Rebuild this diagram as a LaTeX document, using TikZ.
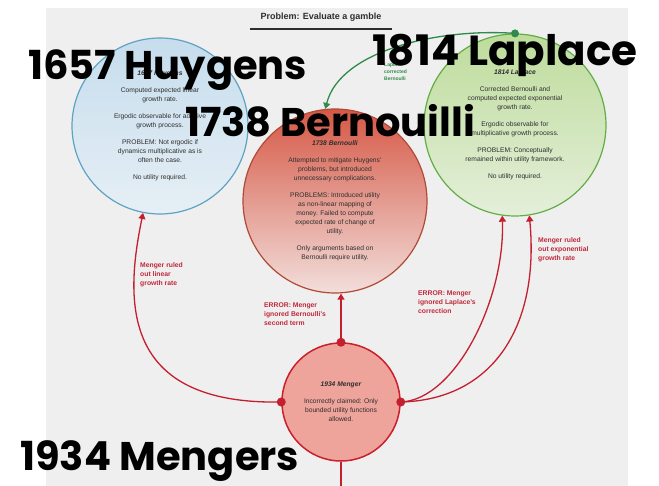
\documentclass[tikz,border=0pt]{standalone}
\usepackage{fontspec}
\setmainfont{Liberation Sans}
\newfontfamily\bigfont{Poppins}
\usetikzlibrary{arrows.meta}
\definecolor{bgray}{HTML}{EFEFEF}
\definecolor{redln}{HTML}{C41F2E}
\definecolor{redtx}{HTML}{C0283A}
\definecolor{greenln}{HTML}{2E8B4A}
\definecolor{bluebd}{HTML}{5EA3C4}
\definecolor{bluetop}{HTML}{C6DDED}
\definecolor{bluebot}{HTML}{E6EFF5}
\definecolor{redbd}{HTML}{B04A35}
\definecolor{redtop}{HTML}{D65846}
\definecolor{redbot}{HTML}{F2DEDB}
\definecolor{greenbd}{HTML}{63AD45}
\definecolor{greentop}{HTML}{BEDC9C}
\definecolor{greenbot}{HTML}{E4EFDA}
\definecolor{mengerfill}{HTML}{EEA39B}
\definecolor{mengerbd}{HTML}{C9202C}
\definecolor{bodytx}{HTML}{2E2E2E}
\tikzset{
  circ/.style={circle, inner sep=0pt, align=center, text=bodytx,
    font=\fontsize{6.7}{9}\selectfont},
  lbl/.style={inner sep=0pt, align=left, text=redtx, anchor=north west,
    font=\bfseries\fontsize{6.8}{9}\selectfont},
  redline/.style={draw=redln, line width=1.3pt},
  redarrow/.style={redline, -{Triangle[width=7pt,length=6pt]}},
  bigl/.style={inner sep=0pt, anchor=base west, text=black,
    font=\bigfont\bfseries\fontsize{40}{44}\selectfont},
}
\begin{document}
\begin{tikzpicture}[x=1pt,y=-1pt]
\useasboundingbox (0,0) rectangle (659,486);
\fill[bgray] (46,8) rectangle (628,486);

% title
\node[font=\bfseries\fontsize{9}{11}\selectfont, text=bodytx] (title) at (321,17) {Problem: Evaluate a gamble};
\draw[line width=1.8pt, draw=bodytx] ([xshift=-7pt,yshift=-4pt]title.south west) -- ([xshift=7pt,yshift=-4pt]title.south east);

% circles
\node[circ, minimum size=176pt, draw=bluebd, line width=1.2pt, top color=bluetop, bottom color=bluebot] (huy) at (160,126)
 {\textbf{\textit{1657 Huygens}}\\[8pt]
  Computed expected linear\\growth rate.\\[8pt]
  Ergodic observable for additive\\growth process.\\[8pt]
  PROBLEM: Not ergodic if\\dynamics multiplicative as is\\often the case.\\[8pt]
  No utility required.};

\node[circ, minimum size=182pt, draw=greenbd, line width=1.2pt, top color=greentop, bottom color=greenbot] (lap) at (515,125)
 {\textbf{\textit{1814 Laplace}}\\[8pt]
  Corrected Bernoulli and\\computed expected exponential\\growth rate.\\[8pt]
  Ergodic observable for\\multiplicative growth process.\\[8pt]
  PROBLEM: Conceptually\\remained within utility framework.\\[8pt]
  No utility required.};

\node[circ, minimum size=184pt, draw=redbd, line width=1.2pt, top color=redtop, bottom color=redbot] (ber) at (335,201)
 {\textbf{\textit{1738 Bernoulli}}\\[8pt]
  Attempted to mitigate Huygens'\\problems, but introduced\\unnecessary complications.\\[8pt]
  PROBLEMS: Introduced utility\\as non-linear mapping of\\money. Failed to compute\\expected rate of change of\\utility.\\[8pt]
  Only arguments based on\\Bernoulli require utility.};

\node[circ, minimum size=118pt, draw=mengerbd, line width=1.5pt, fill=mengerfill] (men) at (341,402)
 {\textbf{\textit{1934 Menger}}\\[8pt]
  Incorrectly claimed: Only\\bounded utility functions\\allowed.};

% green connector
\draw[draw=greenln, line width=1.3pt, -{Triangle[width=7pt,length=6pt]}]
  (lap.north) .. controls (440,28) and (340,50) .. (ber.96);
\fill[greenln] (lap.north) circle (4pt);
\node[inner sep=0pt, anchor=north west, align=left, text=greenln, font=\bfseries\fontsize{5}{6.6}\selectfont] (lglab) at (384,63) {Laplace\\corrected\\Bernoulli};

% red connectors
\draw[redarrow] (men.west) .. controls (120,405) and (125,300) .. (huy.259);
\draw[redarrow] (men.north) -- (men.north |- ber.south);
\draw[redarrow] (men.east) .. controls (455,400) and (505,300) .. (lap.262);
\draw[redarrow] (men.east) .. controls (490,400) and (540,330) .. (lap.279);
\coordinate (bot) at (341,486);
\draw[redline] (men.south) -- (men.south |- bot);
\fill[redln] (men.west) circle (4.5pt);
\fill[redln] (men.north) circle (4.5pt);
\fill[redln] (men.east) circle (4.5pt);

% red labels
\node[lbl] (l1) at (140,262) {Menger ruled\\out linear\\growth rate};
\node[lbl] (l2) at (264,303) {ERROR: Menger\\ignored Bernoulli's\\second term};
\node[lbl] (l3) at (418,291) {ERROR: Menger\\ignored Laplace's\\correction};
\node[lbl] (l4) at (538,237) {Menger ruled\\out exponential\\growth rate};

% big overlay labels
\node[bigl] (bh) at (28,80) {1657 Huygens};
\node[bigl, font=\bigfont\bfseries\fontsize{42}{46}\selectfont] (bl) at (372,66) {1814 Laplace};
\node[bigl] (bb) at (185,137) {1738 Bernouilli};
\node[bigl] (bm) at (20,470) {1934 Mengers};
\end{tikzpicture}
\end{document}
